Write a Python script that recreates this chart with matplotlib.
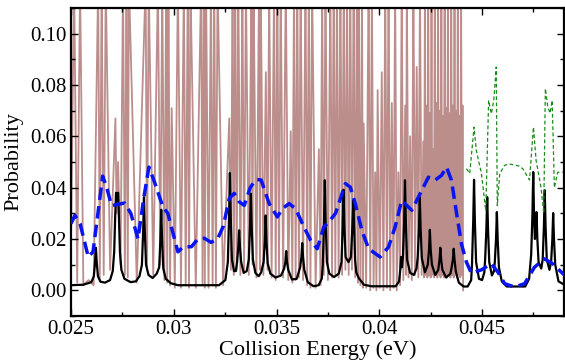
import numpy as np
import matplotlib
matplotlib.use("Agg")
import matplotlib.pyplot as plt
from matplotlib.ticker import MultipleLocator, FuncFormatter

# brown: exact (dense) probability, alternating valley / spike
brown_e = [0.02500, 0.02515, 0.02530, 0.02544, 0.02560, 0.02585, 0.02610, 0.02632, 0.02640, 0.02649,
           0.02659, 0.02669, 0.02690, 0.02716, 0.02722, 0.02729, 0.02741, 0.02753, 0.02762, 0.02770,
           0.02776, 0.02782, 0.02820, 0.02863, 0.02870, 0.02878, 0.02900, 0.02923, 0.02934, 0.02944,
           0.02954, 0.02963, 0.02968, 0.02974, 0.02982, 0.02990, 0.03005, 0.03020, 0.03035, 0.03049,
           0.03058, 0.03068, 0.03074, 0.03081, 0.03107, 0.03133, 0.03140, 0.03146, 0.03151, 0.03157,
           0.03169, 0.03181, 0.03189, 0.03197, 0.03205, 0.03213, 0.03240, 0.03270, 0.03278, 0.03286,
           0.03292, 0.03299, 0.03306, 0.03314, 0.03324, 0.03334, 0.03342, 0.03351, 0.03365, 0.03378,
           0.03383, 0.03388, 0.03402, 0.03415, 0.03419, 0.03423, 0.03436, 0.03448, 0.03456, 0.03464,
           0.03476, 0.03488, 0.03496, 0.03504, 0.03512, 0.03520, 0.03532, 0.03545, 0.03557, 0.03569,
           0.03577, 0.03585, 0.03593, 0.03601, 0.03609, 0.03617, 0.03629, 0.03641, 0.03649, 0.03657,
           0.03665, 0.03673, 0.03690, 0.03706, 0.03714, 0.03722, 0.03730, 0.03738, 0.03750, 0.03762,
           0.03770, 0.03778, 0.03786, 0.03794, 0.03802, 0.03811, 0.03819, 0.03827, 0.03835, 0.03843,
           0.03851, 0.03859, 0.03867, 0.03875, 0.03883, 0.03891, 0.03896, 0.03900, 0.03908, 0.03916,
           0.03920, 0.03924, 0.03936, 0.03948, 0.03956, 0.03964, 0.03972, 0.03980, 0.03986, 0.03992,
           0.04002, 0.04012, 0.04020, 0.04029, 0.04037, 0.04045, 0.04053, 0.04061, 0.04069, 0.04077,
           0.04085, 0.04093, 0.04101, 0.04109, 0.04117, 0.04126, 0.04130, 0.04134, 0.04142, 0.04150,
           0.04158, 0.04166, 0.04174, 0.04182, 0.04190, 0.04198, 0.04206, 0.04214, 0.04218, 0.04222,
           0.04226, 0.04230, 0.04234, 0.04238, 0.04242, 0.04246, 0.04250, 0.04254, 0.04258, 0.04262,
           0.04266, 0.04270, 0.04274, 0.04278, 0.04282, 0.04286, 0.04290, 0.04294, 0.04298, 0.04302,
           0.04306, 0.04310, 0.04314, 0.04318, 0.04322, 0.04326, 0.04330, 0.04334, 0.04338, 0.04342,
           0.04346, 0.04350, 0.04354, 0.04358, 0.04362, 0.04366, 0.04370, 0.04374, 0.04378, 0.04382,
           0.04386, 0.04390, 0.04394, 0.04398, 0.04402, 0.04405, 0.04408]
brown_p = [0.020, 0.12, 0.003, 0.12, 0.002, 0.004, 0.002, 0.12, 0.004, 0.12,
           0.006, 0.12, 0.008, 0.067, 0.030, 0.050, 0.010, 0.12, 0.006, 0.12,
           0.005, 0.12, 0.003, 0.12, 0.008, 0.12, 0.006, 0.12, 0.010, 0.12,
           0.004, 0.12, 0.003, 0.12, 0.002, 0.071, 0.001, 0.12, 0.001, 0.12,
           0.002, 0.12, 0.001, 0.12, 0.001, 0.12, 0.002, 0.12, 0.001, 0.12,
           0.001, 0.12, 0.002, 0.12, 0.001, 0.12, 0.002, 0.067, 0.008, 0.12,
           0.006, 0.12, 0.008, 0.12, 0.006, 0.12, 0.007, 0.12, 0.006, 0.12,
           0.010, 0.12, 0.005, 0.12, 0.008, 0.12, 0.006, 0.085, 0.008, 0.12,
           0.005, 0.12, 0.004, 0.12, 0.006, 0.12, 0.005, 0.12, 0.004, 0.062,
           0.003, 0.12, 0.004, 0.12, 0.005, 0.12, 0.004, 0.12, 0.002, 0.12,
           0.001, 0.12, 0.001, 0.055, 0.002, 0.12, 0.006, 0.12, 0.004, 0.12,
           0.005, 0.12, 0.006, 0.12, 0.005, 0.12, 0.006, 0.12, 0.008, 0.12,
           0.006, 0.12, 0.008, 0.12, 0.005, 0.12, 0.003, 0.12, 0.002, 0.12,
           0.001, 0.065, 0.001, 0.12, 0.000, 0.12, 0.001, 0.046, 0.000, 0.078,
           0.001, 0.085, 0.000, 0.12, 0.001, 0.12, 0.000, 0.073, 0.001, 0.12,
           0.000, 0.046, 0.002, 0.12, 0.004, 0.072, 0.006, 0.12, 0.005, 0.060,
           0.004, 0.12, 0.006, 0.087, 0.005, 0.12, 0.006, 0.058, 0.005, 0.12,
           0.006, 0.072, 0.005, 0.12, 0.006, 0.069, 0.005, 0.12, 0.006, 0.055,
           0.005, 0.12, 0.006, 0.073, 0.005, 0.12, 0.006, 0.070, 0.005, 0.12,
           0.006, 0.068, 0.005, 0.12, 0.006, 0.071, 0.005, 0.12, 0.006, 0.069,
           0.005, 0.12, 0.006, 0.072, 0.005, 0.12, 0.006, 0.070, 0.005, 0.12,
           0.006, 0.068, 0.005, 0.12, 0.006, 0.072, 0.000]

# black: resonance probability (points read along each peak)
black_e = [0.02500, 0.02560, 0.02599, 0.02611, 0.02617, 0.02621, 0.02625, 0.02631, 0.02643, 0.02665,
           0.02690, 0.02703, 0.02710, 0.02715, 0.02719, 0.02724, 0.02729, 0.02733, 0.02738, 0.02745,
           0.02760, 0.02790, 0.02815, 0.02833, 0.02845, 0.02851, 0.02855, 0.02859, 0.02865, 0.02877,
           0.02897, 0.02917, 0.02929, 0.02935, 0.02939, 0.02943, 0.02949, 0.02961, 0.02985, 0.03020,
           0.03220, 0.03251, 0.03263, 0.03269, 0.03273, 0.03277, 0.03283, 0.03293, 0.03302, 0.03308,
           0.03314, 0.03318, 0.03322, 0.03328, 0.03340, 0.03355, 0.03365, 0.03371, 0.03375, 0.03379,
           0.03385, 0.03397, 0.03413, 0.03425, 0.03437, 0.03443, 0.03447, 0.03451, 0.03457, 0.03470,
           0.03495, 0.03522, 0.03537, 0.03543, 0.03547, 0.03551, 0.03557, 0.03575, 0.03598, 0.03615,
           0.03621, 0.03625, 0.03629, 0.03635, 0.03652, 0.03680, 0.03705, 0.03720, 0.03725, 0.03731,
           0.03735, 0.03739, 0.03745, 0.03757, 0.03780, 0.03803, 0.03816, 0.03822, 0.03826, 0.03830,
           0.03836, 0.03850, 0.03862, 0.03868, 0.03874, 0.03878, 0.03882, 0.03888, 0.03900, 0.03925,
           0.03960, 0.04080, 0.04096, 0.04102, 0.04106, 0.04110, 0.04115, 0.04121, 0.04125, 0.04129,
           0.04135, 0.04150, 0.04168, 0.04181, 0.04187, 0.04193, 0.04197, 0.04201, 0.04207, 0.04222,
           0.04236, 0.04242, 0.04246, 0.04250, 0.04256, 0.04272, 0.04287, 0.04293, 0.04297, 0.04301,
           0.04307, 0.04325, 0.04346, 0.04352, 0.04358, 0.04362, 0.04366, 0.04372, 0.04387, 0.04410,
           0.04430, 0.04447, 0.04451, 0.04457, 0.04461, 0.04465, 0.04471, 0.04485, 0.04500, 0.04511,
           0.04515, 0.04521, 0.04525, 0.04529, 0.04535, 0.04548, 0.04558, 0.04562, 0.04568, 0.04572,
           0.04576, 0.04582, 0.04596, 0.04620, 0.04710, 0.04729, 0.04735, 0.04739, 0.04745, 0.04749,
           0.04753, 0.04757, 0.04761, 0.04765, 0.04769, 0.04775, 0.04788, 0.04795, 0.04801, 0.04805,
           0.04809, 0.04815, 0.04828, 0.04836, 0.04842, 0.04846, 0.04850, 0.04856, 0.04872, 0.04900]
black_p = [0.0020, 0.0022, 0.0032, 0.0055, 0.0110, 0.0166, 0.0110, 0.0055, 0.0034, 0.0030,
           0.0040, 0.0075, 0.0150, 0.0290, 0.0380, 0.0350, 0.0380, 0.0290, 0.0150, 0.0080,
           0.0045, 0.0032, 0.0035, 0.0055, 0.0100, 0.0230, 0.0363, 0.0230, 0.0100, 0.0060,
           0.0048, 0.0065, 0.0090, 0.0200, 0.0314, 0.0200, 0.0085, 0.0045, 0.0028, 0.0020,
           0.0020, 0.0040, 0.0110, 0.0290, 0.0457, 0.0290, 0.0120, 0.0075, 0.0075, 0.0110,
           0.0170, 0.0234, 0.0170, 0.0110, 0.0068, 0.0075, 0.0120, 0.0250, 0.0377, 0.0250,
           0.0120, 0.0068, 0.0055, 0.0070, 0.0110, 0.0190, 0.0292, 0.0190, 0.0105, 0.0065,
           0.0050, 0.0058, 0.0085, 0.0110, 0.0153, 0.0110, 0.0080, 0.0042, 0.0045, 0.0090,
           0.0130, 0.0184, 0.0130, 0.0080, 0.0032, 0.0016, 0.0020, 0.0045, 0.0100, 0.0270,
           0.0429, 0.0270, 0.0110, 0.0065, 0.0052, 0.0065, 0.0110, 0.0250, 0.0392, 0.0250,
           0.0130, 0.0110, 0.0130, 0.0230, 0.0350, 0.0230, 0.0120, 0.0070, 0.0048, 0.0022,
           0.0016, 0.0016, 0.0035, 0.0080, 0.0130, 0.0090, 0.0130, 0.0270, 0.0429, 0.0270,
           0.0120, 0.0068, 0.0060, 0.0085, 0.0130, 0.0240, 0.0363, 0.0240, 0.0125, 0.0070,
           0.0100, 0.0160, 0.0236, 0.0160, 0.0100, 0.0060, 0.0080, 0.0120, 0.0166, 0.0120,
           0.0080, 0.0050, 0.0065, 0.0090, 0.0120, 0.0162, 0.0120, 0.0075, 0.0030, 0.0015,
           0.0015, 0.0040, 0.0100, 0.0270, 0.0431, 0.0270, 0.0110, 0.0045, 0.0040, 0.0070,
           0.0120, 0.0240, 0.0363, 0.0240, 0.0110, 0.0058, 0.0075, 0.0110, 0.0200, 0.0305,
           0.0200, 0.0090, 0.0035, 0.0015, 0.0015, 0.0045, 0.0100, 0.0140, 0.0290, 0.0461,
           0.0290, 0.0200, 0.0220, 0.0305, 0.0200, 0.0110, 0.0085, 0.0120, 0.0250, 0.0390,
           0.0250, 0.0120, 0.0080, 0.0110, 0.0200, 0.0301, 0.0200, 0.0100, 0.0035, 0.0022]

# blue dashed: averaged probability
blue_e = [0.02500, 0.02519, 0.02544, 0.02584, 0.02607, 0.02654, 0.02674, 0.02697, 0.02728, 0.02761,
          0.02791, 0.02826, 0.02854, 0.02879, 0.02907, 0.02947, 0.02971, 0.03020, 0.03047, 0.03086,
          0.03115, 0.03149, 0.03181, 0.03213, 0.03241, 0.03270, 0.03294, 0.03318, 0.03343, 0.03372,
          0.03399, 0.03425, 0.03464, 0.03504, 0.03528, 0.03561, 0.03593, 0.03633, 0.03666, 0.03698,
          0.03730, 0.03754, 0.03787, 0.03835, 0.03859, 0.03883, 0.03915, 0.03948, 0.04004, 0.04045,
          0.04077, 0.04109, 0.04158, 0.04190, 0.04239, 0.04271, 0.04303, 0.04327, 0.04351, 0.04376,
          0.04400, 0.04424, 0.04448, 0.04497, 0.04545, 0.04578, 0.04610, 0.04658, 0.04707, 0.04755,
          0.04803, 0.04843, 0.04900]
blue_p = [0.0260, 0.0292, 0.0260, 0.0130, 0.0150, 0.0445, 0.0400, 0.0330, 0.0335, 0.0340,
          0.0300, 0.0200, 0.0360, 0.0480, 0.0420, 0.0325, 0.0300, 0.0150, 0.0170, 0.0170,
          0.0198, 0.0203, 0.0187, 0.0200, 0.0250, 0.0358, 0.0378, 0.0345, 0.0331, 0.0400,
          0.0432, 0.0430, 0.0338, 0.0286, 0.0318, 0.0338, 0.0318, 0.0247, 0.0195, 0.0162,
          0.0247, 0.0266, 0.0300, 0.0416, 0.0402, 0.0338, 0.0234, 0.0162, 0.0130, 0.0169,
          0.0247, 0.0350, 0.0312, 0.0363, 0.0441, 0.0429, 0.0448, 0.0480, 0.0429, 0.0300,
          0.0180, 0.0110, 0.0067, 0.0080, 0.0104, 0.0070, 0.0026, 0.0013, 0.0026, 0.0090,
          0.0123, 0.0104, 0.0060]

# green dashed: high-energy part
green_e = [0.04424, 0.04440, 0.04461, 0.04472, 0.04497, 0.04518, 0.04532, 0.04545, 0.04557, 0.04569,
           0.04574, 0.04586, 0.04610, 0.04630, 0.04650, 0.04680, 0.04698, 0.04731, 0.04750, 0.04763,
           0.04787, 0.04800, 0.04808, 0.04820, 0.04831, 0.04841, 0.04852, 0.04868, 0.04892]
green_p = [0.0474, 0.0455, 0.0636, 0.0545, 0.0455, 0.0310, 0.0740, 0.0688, 0.0740, 0.0870,
           0.0330, 0.0455, 0.0487, 0.0492, 0.0490, 0.0484, 0.0474, 0.0430, 0.0636, 0.0506,
           0.0400, 0.0300, 0.0786, 0.0714, 0.0690, 0.0740, 0.0400, 0.0460, 0.0460]

plt.rcParams['font.family'] = ['Liberation Serif', 'DejaVu Serif']

fig = plt.figure(figsize=(5.65, 3.62), dpi=100)
ax = fig.add_axes([0.1257, 0.127, 0.873, 0.851])

ax.plot(brown_e, brown_p, color='#bb8e8c', lw=1.3, zorder=1)
ax.plot(black_e, black_p, color='black', lw=1.6, zorder=2)
ax.plot(green_e, green_p, color='#1a8c1a', lw=0.9, dashes=(3, 2), zorder=3)
ax.plot(blue_e, blue_p, color='#0a14f0', lw=2.5, dashes=(3.6, 1.8), zorder=4)

ax.set_xlim(0.025, 0.049)
ax.set_ylim(-0.01, 0.11)
ax.xaxis.set_major_locator(MultipleLocator(0.005))
ax.xaxis.set_minor_locator(MultipleLocator(0.0025))
ax.yaxis.set_major_locator(MultipleLocator(0.02))
ax.yaxis.set_minor_locator(MultipleLocator(0.01))
ax.xaxis.set_major_formatter(FuncFormatter(lambda v, p: '%g' % round(v, 4)))
ax.yaxis.set_major_formatter(FuncFormatter(lambda v, p: '%.2f' % v))
ax.tick_params(which='both', direction='in', top=True, right=True, labelsize=15, width=1.0)
ax.tick_params(which='major', length=5, pad=3)
ax.tick_params(which='minor', length=3)
for s in ax.spines.values():
    s.set_linewidth(1.6)

ax.set_xlabel('Collision Energy (eV)', fontsize=16, labelpad=1)
ax.set_ylabel('Probability', fontsize=16, labelpad=5)

fig.savefig('out.png', dpi=100)
